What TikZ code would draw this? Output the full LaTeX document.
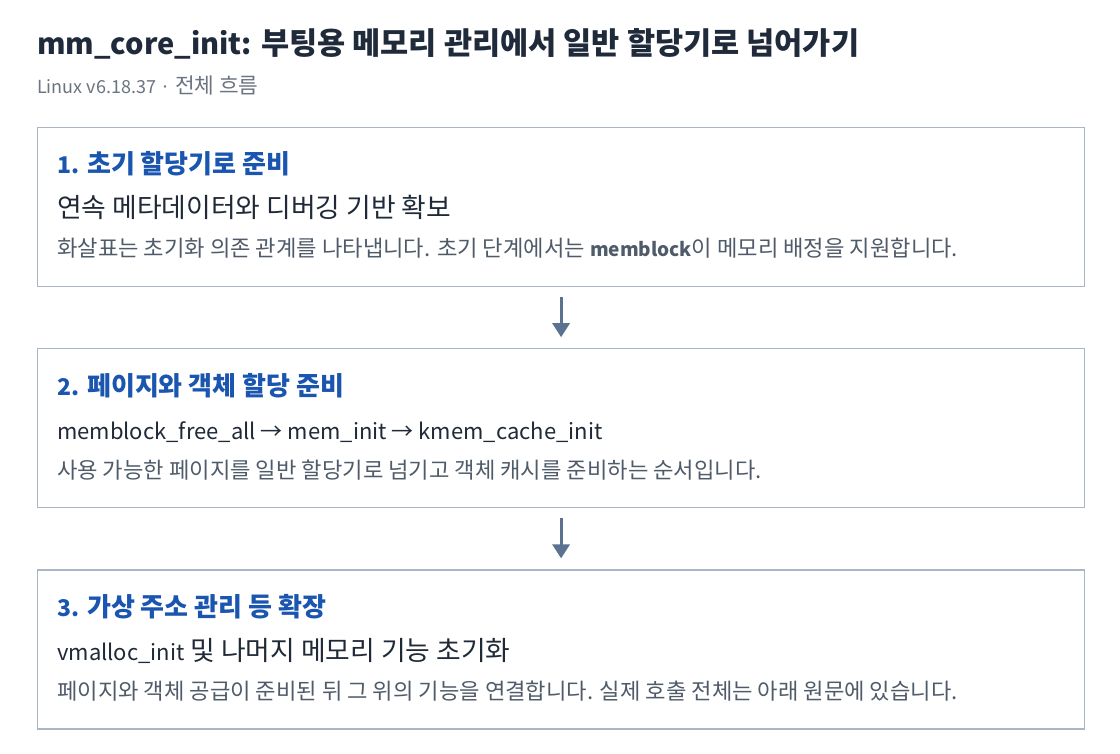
\documentclass[tikz,border=0pt]{standalone}
\usepackage{fontspec}
\setmainfont{Noto Sans CJK KR}
\usetikzlibrary{arrows.meta, positioning}
\definecolor{titleink}{HTML}{1F2A3A}
\definecolor{headblue}{HTML}{1A55B0}
\definecolor{bodyink}{HTML}{1F2937}
\definecolor{noteink}{HTML}{4F5B69}
\definecolor{subink}{HTML}{6B7480}
\definecolor{boxline}{HTML}{AAB6C4}
\definecolor{arrowslate}{HTML}{5B7390}
% latin runs are set smaller than the hangul around them
\newcommand{\latinrun}[2]{{\fontsize{#1}{#1}\selectfont #2}}

\begin{document}
\begin{tikzpicture}[x=1pt, y=-1pt,
    stagebox/.style={draw=boxline, line width=1.2pt, rectangle, minimum width=1047pt, minimum height=159pt, inner sep=0pt},
    headtxt/.style={anchor=base west, inner sep=0pt, text=headblue, font=\fontsize{26}{30}\selectfont\bfseries},
    bodytxt/.style={anchor=base west, inner sep=0pt, text=bodyink, font=\fontsize{26.8}{30}\selectfont},
    notetxt/.style={anchor=base west, inner sep=0pt, text=noteink, font=\fontsize{22.2}{26}\selectfont},
    flowarrow/.style={draw=arrowslate, line width=3pt, -{Triangle[width=17pt,length=14pt]}, shorten <=10pt, shorten >=11pt}]
    \fill[white] (0,0) rectangle (1120,754);
    \useasboundingbox (0,0) rectangle (1120,754);

    % title
    \node[anchor=base west, inner sep=0pt, text=titleink, font=\fontsize{30.6}{34}\selectfont\bfseries] (title) at (37,55)
        {\latinrun{29}{mm\_core\_init:} 부팅용 메모리 관리에서 일반 할당기로 넘어가기};
    \node[anchor=base west, inner sep=0pt, text=subink, font=\fontsize{21.4}{24}\selectfont] (subtitle) at (37,94)
        {\latinrun{18}{Linux v6.18.37 ·} 전체 흐름};

    % stages
    \node[stagebox, anchor=north west] (stage1) at (37,127) {};
    \node[stagebox, below=61pt of stage1] (stage2) {};
    \node[stagebox, below=61pt of stage2] (stage3) {};

    \node[headtxt] (head1) at ([xshift=20pt,yshift=-47pt]stage1.north west) {\latinrun{23}{1.} 초기 할당기로 준비};
    \node[bodytxt] (body1) at ([xshift=20pt,yshift=-91pt]stage1.north west) {연속 메타데이터와 디버깅 기반 확보};
    \node[notetxt] (note1) at ([xshift=20pt,yshift=-130pt]stage1.north west)
        {화살표는 초기화 의존 관계를 나타냅니다. 초기 단계에서는 \latinrun{19}{\textbf{memblock}}이 메모리 배정을 지원합니다.};

    \node[headtxt] (head2) at ([xshift=20pt,yshift=-47pt]stage2.north west) {\latinrun{23}{2.} 페이지와 객체 할당 준비};
    \node[bodytxt] (body2) at ([xshift=20pt,yshift=-91pt]stage2.north west)
        {\latinrun{22}{memblock\_free\_all → mem\_init → kmem\_cache\_init}};
    \node[notetxt] (note2) at ([xshift=20pt,yshift=-130pt]stage2.north west)
        {사용 가능한 페이지를 일반 할당기로 넘기고 객체 캐시를 준비하는 순서입니다.};

    \node[headtxt] (head3) at ([xshift=20pt,yshift=-47pt]stage3.north west) {\latinrun{23}{3.} 가상 주소 관리 등 확장};
    \node[bodytxt] (body3) at ([xshift=20pt,yshift=-91pt]stage3.north west) {\latinrun{22}{vmalloc\_init} 및 나머지 메모리 기능 초기화};
    \node[notetxt] (note3) at ([xshift=20pt,yshift=-130pt]stage3.north west)
        {페이지와 객체 공급이 준비된 뒤 그 위의 기능을 연결합니다. 실제 호출 전체는 아래 원문에 있습니다.};

    % flow
    \draw[flowarrow] (stage1.south) -- (stage2.north);
    \draw[flowarrow] (stage2.south) -- (stage3.north);
\end{tikzpicture}
\end{document}
